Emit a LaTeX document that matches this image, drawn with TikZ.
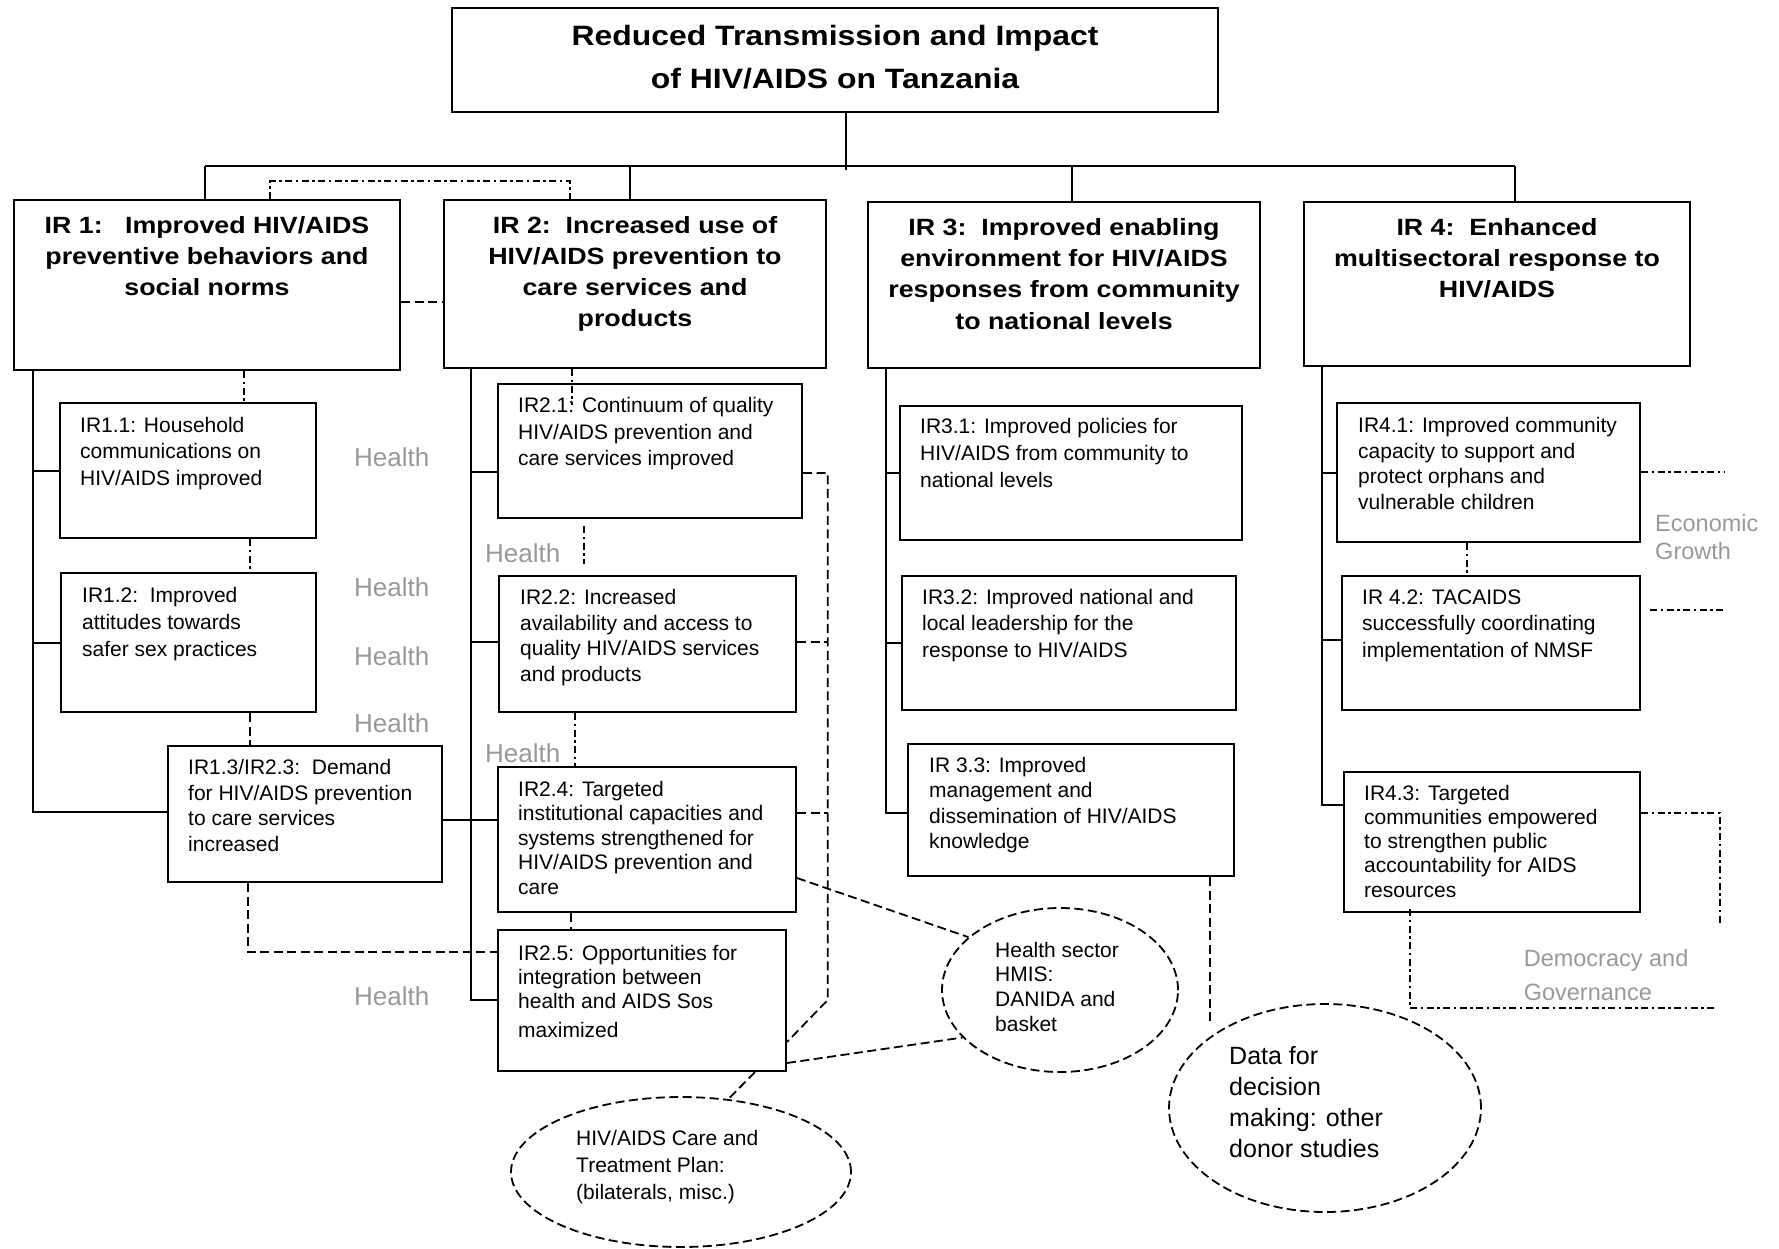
\documentclass[tikz,border=0pt]{standalone}
\usepackage{fontspec}
\setmainfont{Liberation Sans}
\newfontfamily\hdfont{Liberation Sans}[FakeStretch=1.14]
\usetikzlibrary{shapes.geometric}

\definecolor{lbl}{gray}{0.6}
\newcommand{\Lblock}[1]{\begin{tabular}[t]{@{}l@{}}#1\end{tabular}}
\newcommand{\Cblock}[1]{\begin{tabular}[t]{@{}c@{}}#1\end{tabular}}

\begin{document}
\begin{tikzpicture}[x=1pt,y=-1pt,
  box/.style={draw, rectangle, line width=2pt, inner sep=0pt},
  oval/.style={draw, ellipse, inner sep=0pt, line width=1.8pt, dash pattern=on 9pt off 4.5pt},
  link/.style={line width=2pt},
  dsh/.style={line width=1.8pt, dash pattern=on 9pt off 4.5pt},
  dshdot/.style={line width=1.8pt, dash pattern=on 7pt off 3.5pt on 2.5pt off 3.5pt},
  title/.style={font=\hdfont\bfseries\fontsize{28}{43}\selectfont, anchor=base, inner sep=0pt},
  head/.style={font=\hdfont\bfseries\fontsize{23.5}{31.2}\selectfont, anchor=base, inner sep=0pt},
  sub/.style={font=\fontsize{21}{#1}\selectfont, anchor=base west, inner sep=0pt},
  side/.style={font=\fontsize{#1}{30}\selectfont, text=lbl, anchor=base west, inner sep=0pt}
]
\useasboundingbox (0,0) rectangle (1779,1248);
\fill[white] (0,0) rectangle (1779,1248);

% ---- goal and intermediate results
\node[box, minimum width=766pt, minimum height=104pt] (goal) at (835,60) {};
\node[title] (goalt) at (835,45) {\Cblock{Reduced Transmission and Impact\\of HIV/AIDS on Tanzania}};

\node[box, minimum width=386pt, minimum height=170pt] (ir1) at (207,285) {};
\node[box, minimum width=382pt, minimum height=168pt] (ir2) at (635,284) {};
\node[box, minimum width=392pt, minimum height=166pt] (ir3) at (1064,285) {};
\node[box, minimum width=386pt, minimum height=164pt] (ir4) at (1497,284) {};

\node[head] (ir1t) at (207,233.5) {\Cblock{IR 1:\ \ \ Improved HIV/AIDS\\preventive behaviors and\\social norms}};
\node[head] (ir2t) at (635,233.3) {\Cblock{IR 2:\ \ Increased use of\\HIV/AIDS prevention to\\care services and\\products}};
\node[head] (ir3t) at (1064,235.5) {\Cblock{IR 3:\ \ Improved enabling\\environment for HIV/AIDS\\responses from community\\to national levels}};
\node[head] (ir4t) at (1497,235.5) {\Cblock{IR 4:\ \ Enhanced\\multisectoral response to\\HIV/AIDS}};

% ---- sub-results
\node[box, minimum width=256pt, minimum height=135pt] (b11) at (188,470.5) {};
\node[box, minimum width=255pt, minimum height=139pt] (b12) at (188.5,642.5) {};
\node[box, minimum width=274pt, minimum height=136pt] (b13) at (305,814) {};
\node[box, minimum width=304pt, minimum height=134pt] (b21) at (650,451) {};
\node[box, minimum width=297pt, minimum height=136pt] (b22) at (647.5,644) {};
\node[box, minimum width=298pt, minimum height=145pt] (b24) at (647,839.5) {};
\node[box, minimum width=288pt, minimum height=141pt] (b25) at (642,1000.5) {};
\node[box, minimum width=342pt, minimum height=134pt] (b31) at (1071,473) {};
\node[box, minimum width=334pt, minimum height=134pt] (b32) at (1069,643) {};
\node[box, minimum width=326pt, minimum height=132pt] (b33) at (1071,810) {};
\node[box, minimum width=303pt, minimum height=139pt] (b41) at (1488.5,472.5) {};
\node[box, minimum width=298pt, minimum height=134pt] (b42) at (1491,643) {};
\node[box, minimum width=296pt, minimum height=140pt] (b43) at (1492,842) {};

\node[sub=26.75] (b11t) at (80,432) {\Lblock{IR1.1: Household\\communications on\\HIV/AIDS improved}};
\node[sub=26.7] (b12t) at (82,602.7) {\Lblock{IR1.2:\ \ Improved\\attitudes towards\\safer sex practices}};
\node[sub=25.8] (b13t) at (188,774.3) {\Lblock{IR1.3/IR2.3:\ \ Demand\\for HIV/AIDS prevention\\to care services\\increased}};
\node[sub=26.5] (b21t) at (518,412.7) {\Lblock{IR2.1: Continuum of quality\\HIV/AIDS prevention and\\care services improved}};
\node[sub=25.8] (b22t) at (520,604.3) {\Lblock{IR2.2: Increased\\availability and access to\\quality HIV/AIDS services\\and products}};
\node[sub=24.5] (b24t) at (518,796) {\Lblock{IR2.4: Targeted\\institutional capacities and\\systems strengthened for\\HIV/AIDS prevention and\\care}};
\node[sub=24] (b25t) at (518,960) {\Lblock{IR2.5: Opportunities for\\integration between\\health and AIDS Sos\\[5.6pt]maximized}};
\node[sub=26.8] (b31t) at (920,433.5) {\Lblock{IR3.1: Improved policies for\\HIV/AIDS from community to\\national levels}};
\node[sub=26.5] (b32t) at (922,604) {\Lblock{IR3.2: Improved national and\\local leadership for the\\response to HIV/AIDS}};
\node[sub=25.5] (b33t) at (929,772) {\Lblock{IR 3.3: Improved\\management and\\dissemination of HIV/AIDS\\knowledge}};
\node[sub=25.7] (b41t) at (1358,432.3) {\Lblock{IR4.1: Improved community\\capacity to support and\\protect orphans and\\vulnerable children}};
\node[sub=26.6] (b42t) at (1362,604) {\Lblock{IR 4.2: TACAIDS\\successfully coordinating\\implementation of NMSF}};
\node[sub=24.3] (b43t) at (1364,800) {\Lblock{IR4.3: Targeted\\communities empowered\\to strengthen public\\accountability for AIDS\\resources}};

% ---- partner data sources
\node[oval, minimum width=340pt, minimum height=150pt] (ecare) at (681,1172) {};
\node[oval, minimum width=236pt, minimum height=164pt] (ehmis) at (1060,990) {};
\node[oval, minimum width=312pt, minimum height=208pt] (edata) at (1325,1108) {};
\node[sub=27] (ecaret) at (576,1145.5) {\Lblock{HIV/AIDS Care and\\Treatment Plan:\\(bilaterals, misc.)}};
\node[sub=24.7] (ehmist) at (995,957) {\Lblock{Health sector\\HMIS:\\DANIDA and\\basket}};
\node[sub=31, font=\fontsize{25}{31}\selectfont] (edatat) at (1229,1064) {\Lblock{Data for\\decision\\making: other\\donor studies}};

% ---- sector labels
\node[side=26] (hl1) at (354,466.7) {Health};
\node[side=26] (hl2) at (354,596.7) {Health};
\node[side=26] (hl3) at (354,665.5) {Health};
\node[side=26] (hl4) at (354,732.7) {Health};
\node[side=26] (hl5) at (354,1005) {Health};
\node[side=26] (hl6) at (485,562.3) {Health};
\node[side=26] (hl7) at (485,762.3) {Health};
\node[side=23.5, font=\fontsize{23.5}{27.3}\selectfont] (egl) at (1655,531.7) {\Lblock{Economic\\Growth}};
\node[side=23.5, font=\fontsize{23.5}{33.3}\selectfont] (dgl) at (1523.6,966.7) {\Lblock{Democracy and\\Governance}};

% ---- top-level tree
\coordinate (trunk) at (846,170);
\coordinate (bus1) at (205,166);
\coordinate (bus2) at (630,166);
\coordinate (bus3) at (1071.5,166);
\coordinate (bus4) at (1515,166);
\draw[link] (goal.south -| trunk) -- (trunk);
\draw[link] (bus1) -- (bus4);
\foreach \i in {1,2,3,4} \draw[link] (bus\i) -- (bus\i |- ir\i.north);

\coordinate (pa) at (270,181);
\coordinate (pb) at (570,181);
\draw[dshdot] (pa |- ir1.north) -- (pa) -- (pb) -- (pb |- ir2.north);
\coordinate (pm) at (420,302);
\draw[dsh] (ir1.east |- pm) -- (ir2.west |- pm);

% ---- IR 1 column
\coordinate (s1) at (33,812);
\draw[link] (ir1.south -| s1) -- (s1) -- (s1 -| b13.west);
\draw[link] (s1 |- b11.west) -- (b11.west);
\draw[link] (s1 |- b12.west) -- (b12.west);
\coordinate (k1) at (244,0);
\coordinate (k2) at (250,0);
\coordinate (k3) at (248,952);
\draw[dshdot] (ir1.south -| k1) -- (b11.north -| k1);
\draw[dshdot] (b11.south -| k2) -- (b12.north -| k2);
\draw[dsh] (b12.south -| k2) -- (b13.north -| k2);
\draw[dsh] (b13.south -| k3) -- (k3) -- (k3 -| b25.west);

% ---- IR 2 column
\coordinate (s2) at (471,1000);
\draw[link] (ir2.south -| s2) -- (s2) -- (s2 -| b25.west);
\coordinate (r21) at (471,472);
\coordinate (r22) at (471,642);
\coordinate (r13) at (471,820);
\draw[link] (r21) -- (r21 -| b21.west);
\draw[link] (r22) -- (r22 -| b22.west);
\draw[link] (b13.east |- r13) -- (r13 -| b24.west);
\coordinate (k4) at (572,405);
\coordinate (k5) at (584,0);
\coordinate (k6) at (575,0);
\coordinate (k7) at (571,0);
\draw[dshdot] (ir2.south -| k4) -- (k4);
\draw[dshdot, shorten <=7pt, shorten >=11pt] (b21.south -| k5) -- (b22.north -| k5);
\draw[dshdot] (b22.south -| k6) -- (b24.north -| k6);
\draw[dsh] (b24.south -| k7) -- (b25.north -| k7);

\coordinate (c1) at (827.7,473);
\coordinate (c2) at (827.7,1000);
\coordinate (q25) at (786,1042);
\coordinate (q22) at (827.7,642);
\coordinate (q24) at (827.7,813);
\draw[dsh] (b21.east |- c1) -- (c1) -- (c2) -- (b25.east |- q25);
\draw[dsh] (b22.east |- q22) -- (q22);
\draw[dsh] (b24.east |- q24) -- (q24);

\coordinate (h1) at (795,878);
\coordinate (h2) at (786,1063);
\draw[dsh] (b24.east |- h1) -- (ehmis.150);
\draw[dsh] (b25.east |- h2) -- (ehmis.206);
\draw[dsh] ([xshift=113pt]b25.south) -- (ecare.57);

% ---- IR 3 column
\coordinate (s3) at (886,813);
\draw[link] (ir3.south -| s3) -- (s3) -- (s3 -| b33.west);
\draw[link] (s3 |- b31.west) -- (b31.west);
\draw[link] (s3 |- b32.west) -- (b32.west);
\coordinate (k8) at (1210,1025);
\draw[dsh] (b33.south -| k8) -- (k8);

% ---- IR 4 column
\coordinate (s4) at (1321.6,805);
\draw[link] (ir4.south -| s4) -- (s4) -- (s4 -| b43.west);
\draw[link] (s4 |- b41.west) -- (b41.west);
\coordinate (r42) at (1321.6,640);
\draw[link] (r42) -- (r42 -| b42.west);
\coordinate (k9) at (1467,0);
\draw[dshdot] (b41.south -| k9) -- (b42.north -| k9);

\coordinate (e1) at (1724,472);
\coordinate (e2) at (1724,610);
\coordinate (e3) at (1720,813);
\coordinate (e3b) at (1720,923);
\coordinate (e4) at (1410,1008);
\coordinate (e4b) at (1715,1008);
\draw[dshdot] (b41.east |- e1) -- (e1);
\draw[dshdot, shorten <=9pt] (b42.east |- e2) -- (e2);
\draw[dshdot] (b43.east |- e3) -- (e3) -- (e3b);
\draw[dshdot] ([yshift=4pt]e4 |- b43.south) -- (e4) -- (e4b);
\end{tikzpicture}
\end{document}
